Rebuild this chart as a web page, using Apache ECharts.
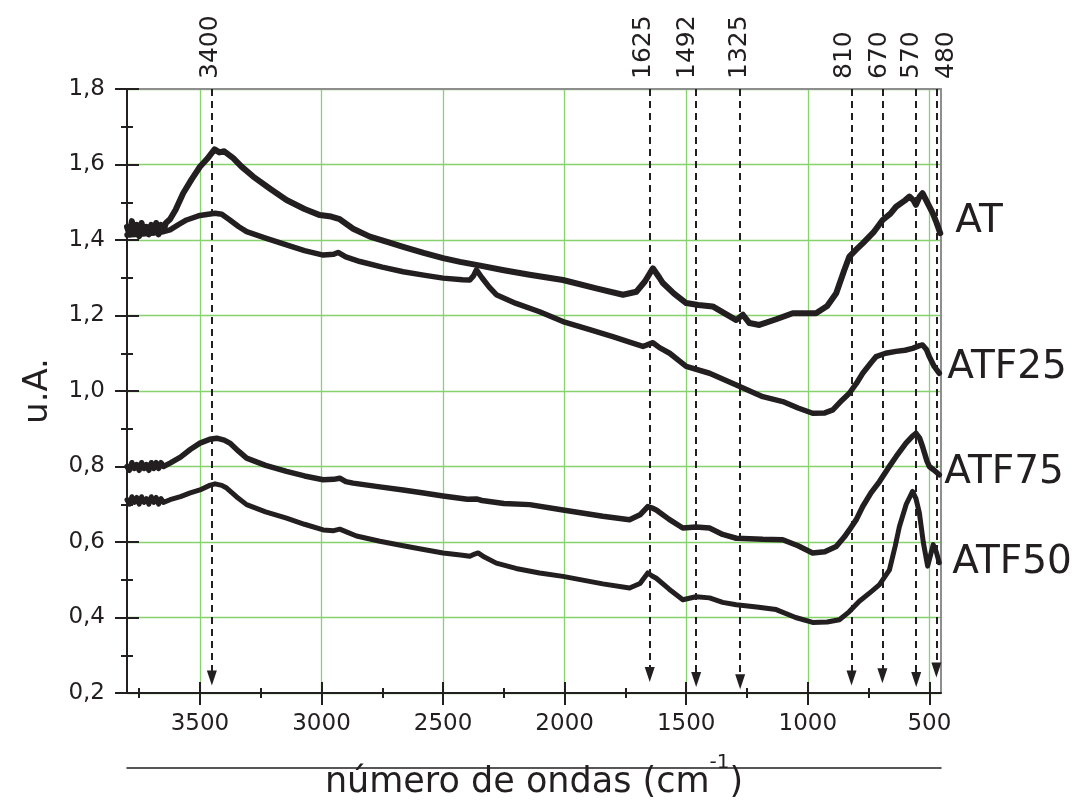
<!DOCTYPE html>
<html><head><meta charset="utf-8">
<script src="https://cdn.jsdelivr.net/npm/echarts@6/dist/echarts.min.js"></script>
<style>html,body{margin:0;padding:0;background:#fff}#c{width:1091px;height:808px}</style>
</head><body><div id="c"></div>
<script>
// ---------------- data ----------------
const X_TICKS = [3500, 3000, 2500, 2000, 1500, 1000, 500];
const X_MINOR = [3750, 3250, 2750, 2250, 1750, 1250, 750];
const SERIES_NAMES = ['AT', 'ATF25', 'ATF75', 'ATF50'];

const AT_x = [3800,3790,3780,3770,3760,3750,3740,3730,3720,3710,3700,3690,3680,3670,3660,3650,3640,
  3623,3600,3569,3535,3500,3470,3440,3420,3400,3363,3330,3281,3210,3144,3070,3007,2960,2925,2870,2801,
  2730,2664,2580,2500,2430,2363,2250,2144,2007,1870,
  1760,1705,1670,1637,1610,1596,1550,1500,1450,1391,
  1340,1294,1267,1240,1199,1130,1062,966,920,883,
  850,829,800,774,730,692,660,637,600,582,
  565,555,540,528,505,486,470,455];
const AT_y = [1.435,1.415,1.45,1.42,1.44,1.41,1.445,1.42,1.435,1.415,1.44,1.42,1.445,1.415,1.44,1.425,1.445,
  1.455,1.48,1.524,1.56,1.594,1.615,1.64,1.632,1.635,1.617,1.595,1.568,1.535,1.506,1.482,1.466,1.462,1.455,1.43,1.409,
  1.395,1.382,1.366,1.352,1.342,1.334,1.32,1.308,1.294,1.272,
  1.255,1.263,1.29,1.325,1.30,1.286,1.258,1.233,1.228,1.224,
  1.205,1.188,1.202,1.18,1.175,1.19,1.206,1.206,1.225,1.259,
  1.32,1.356,1.375,1.391,1.42,1.453,1.47,1.488,1.505,1.515,
  1.505,1.493,1.515,1.524,1.495,1.471,1.445,1.418];

const ATF25_x = [3800,3750,3700,3650,3623,3590,3555,3500,3438,3410,
  3377,3340,3308,3230,3144,3070,2993,2950,2932,2900,
  2842,2750,2664,2580,2500,2420,2390,2375,2363,2340,
  2310,2281,2200,2103,2007,1900,1802,1720,1678,1650,
  1637,1610,1568,1500,1404,1294,1185,1103,1040,980,
  930,897,860,829,800,774,740,719,680,637,
  600,569,540,528,512,500,480,459];
const ATF25_y = [1.413,1.415,1.418,1.422,1.427,1.44,1.453,1.465,1.471,1.468,
  1.453,1.435,1.422,1.405,1.387,1.372,1.36,1.362,1.367,1.355,
  1.343,1.328,1.316,1.307,1.299,1.295,1.294,1.305,1.321,1.30,
  1.275,1.255,1.232,1.21,1.184,1.163,1.144,1.127,1.118,1.125,
  1.128,1.115,1.10,1.065,1.047,1.016,0.985,0.972,0.955,0.941,
  0.942,0.95,0.975,0.994,1.02,1.047,1.075,1.091,1.10,1.105,
  1.108,1.113,1.12,1.122,1.11,1.091,1.065,1.047];

const ATF75_x = [3800,3790,3780,3770,3760,3750,3740,3730,3720,3710,3700,3690,3680,3670,3660,3650,
  3623,3580,3540,3500,3460,3431,3400,3377,3340,3308,
  3230,3144,3070,2993,2950,2925,2900,2870,2760,2664,
  2580,2500,2400,2363,2340,2250,2144,2007,1843,1733,
  1690,1658,1640,1623,1570,1514,1460,1404,1350,1294,
  1185,1103,1040,980,930,883,850,829,800,774,
  740,705,670,637,596,570,555,540,528,510,
  500,480,459];
const ATF75_y = [0.80,0.79,0.81,0.795,0.805,0.79,0.81,0.795,0.805,0.79,0.81,0.795,0.81,0.795,0.81,0.80,
  0.809,0.825,0.845,0.862,0.872,0.875,0.87,0.862,0.84,0.822,
  0.803,0.787,0.775,0.765,0.766,0.769,0.76,0.756,0.746,0.738,
  0.73,0.722,0.713,0.714,0.71,0.702,0.699,0.685,0.668,0.659,
  0.672,0.694,0.69,0.685,0.66,0.637,0.64,0.637,0.62,0.61,
  0.607,0.606,0.59,0.571,0.574,0.588,0.613,0.632,0.66,0.694,
  0.73,0.76,0.795,0.826,0.862,0.88,0.888,0.875,0.853,0.815,
  0.80,0.79,0.778];

const ATF50_x = [3800,3790,3780,3770,3760,3750,3740,3730,3720,3710,3700,3690,3680,3670,3660,3650,
  3623,3580,3540,3500,3460,3438,3410,3390,3350,3308,
  3230,3144,3070,2993,2950,2925,2890,2856,2760,2664,
  2580,2500,2420,2390,2370,2356,2330,2281,2200,2103,
  2007,1843,1733,1690,1658,1640,1623,1570,1514,1460,
  1404,1350,1294,1210,1130,1050,980,920,870,830,
  788,740,705,664,640,623,595,569,555,541,
  525,507,495,484,472,459];
const ATF50_y = [0.712,0.70,0.72,0.705,0.718,0.70,0.72,0.705,0.715,0.70,0.72,0.705,0.718,0.70,0.715,0.705,
  0.712,0.72,0.73,0.738,0.75,0.754,0.75,0.743,0.72,0.699,
  0.68,0.663,0.647,0.632,0.63,0.634,0.625,0.616,0.602,0.59,
  0.58,0.571,0.565,0.562,0.568,0.571,0.56,0.544,0.53,0.518,
  0.509,0.489,0.478,0.49,0.518,0.51,0.504,0.475,0.447,0.455,
  0.452,0.44,0.434,0.428,0.421,0.40,0.387,0.388,0.394,0.415,
  0.443,0.468,0.487,0.526,0.59,0.641,0.70,0.734,0.715,0.677,
  0.60,0.536,0.565,0.593,0.575,0.545];

// band annotations: dashed arrows
const BAND_LABELS = ['3400', '1625', '1492', '1325', '810', '670', '570', '480'];
const BAND_X      = [3451, 1650, 1459, 1278, 820, 693, 554, 471];
const BAND_END_Y  = [0.24, 0.249, 0.236, 0.23, 0.24, 0.246, 0.236, 0.261];
const BAND_LABEL_X = [3456, 1675, 1495, 1281, 849, 706, 574, 431];

// ---------------- chart ----------------
const FONT = '"DejaVu Sans", "Liberation Sans", sans-serif';
const INK = '#231f20';
const GREEN = '#86d36e';
const GRAY = '#8e8e8e';

function zip(xs, ys) {
  const n = Math.min(xs.length, ys.length);
  const out = [];
  for (let i = 0; i < n; i++) out.push([xs[i], ys[i]]);
  return out;
}
const SERIES_DATA = [zip(AT_x, AT_y), zip(ATF25_x, ATF25_y), zip(ATF75_x, ATF75_y), zip(ATF50_x, ATF50_y)];
const SERIES_WIDTH = [6, 5.5, 5.5, 5];

const chart = echarts.init(document.getElementById('c'), null, {renderer: 'canvas'});

const xBase = {type: 'value', min: 452, max: 3800, inverse: true, gridIndex: 0};
const hidden = {axisLabel: {show: false}, splitLine: {show: false}, minorTick: {show: false}, minorSplitLine: {show: false}};
const tickStyle = {color: INK, width: 2};

const xAxes = [
  Object.assign({}, xBase, {
    position: 'bottom', splitNumber: 7,
    axisLine: {show: true, onZero: false, lineStyle: {color: INK, width: 2}},
    axisTick: {show: true, inside: false, length: 12, customValues: X_TICKS, lineStyle: tickStyle},
    axisLabel: {show: true, customValues: X_TICKS, margin: 20, fontSize: 23, color: INK, fontFamily: FONT,
      formatter: v => String(v)},
    splitLine: {show: true, lineStyle: {color: GREEN, width: 1.3}},
    name: '{a|número de ondas (cm}{b|-1}{a|)}',
    nameLocation: 'middle', nameGap: 60,
    nameTextStyle: {
      rich: {
        a: {fontSize: 35, fontFamily: FONT, color: INK, lineHeight: 60},
        b: {fontSize: 20, fontFamily: FONT, color: INK, lineHeight: 22, verticalAlign: 'top'}
      }
    }
  }),
  Object.assign({}, xBase, hidden, {
    position: 'bottom',
    axisLine: {show: false, onZero: false},
    axisTick: {show: true, inside: true, length: 11, customValues: X_TICKS, lineStyle: tickStyle}
  }),
  Object.assign({}, xBase, hidden, {
    position: 'bottom',
    axisLine: {show: false, onZero: false},
    axisTick: {show: true, inside: false, length: 5, customValues: X_MINOR, lineStyle: tickStyle}
  }),
  Object.assign({}, xBase, hidden, {
    position: 'bottom',
    axisLine: {show: false, onZero: false},
    axisTick: {show: true, inside: true, length: 5, customValues: X_MINOR, lineStyle: tickStyle}
  }),
  Object.assign({}, xBase, hidden, {
    position: 'top',
    axisLine: {show: true, onZero: false, lineStyle: {color: GRAY, width: 2}},
    axisTick: {show: false}
  }),
  Object.assign({}, xBase, hidden, {
    position: 'bottom', offset: 75,
    axisLine: {show: true, onZero: false, lineStyle: {color: INK, width: 1.5}},
    axisTick: {show: false}
  })
];

const yBase = {type: 'value', min: 0.2, max: 1.8, interval: 0.2, gridIndex: 0};
const yAxes = [
  Object.assign({}, yBase, {
    position: 'left',
    axisLine: {show: true, onZero: false, lineStyle: {color: INK, width: 2}},
    axisTick: {show: true, inside: false, length: 12, lineStyle: tickStyle},
    minorTick: {show: true, splitNumber: 2, length: 6, lineStyle: tickStyle},
    axisLabel: {show: true, margin: 22, fontSize: 23, color: INK, fontFamily: FONT,
      formatter: v => v.toFixed(1).replace('.', ',')},
    splitLine: {show: true, lineStyle: {color: GREEN, width: 1.3}},
    name: 'u.A.', nameLocation: 'middle', nameGap: 72,
    nameTextStyle: {fontSize: 34, fontFamily: FONT, color: INK}
  }),
  Object.assign({}, yBase, hidden, {
    position: 'left',
    axisLine: {show: false, onZero: false},
    axisTick: {show: true, inside: true, length: 12, lineStyle: tickStyle},
    minorTick: {show: true, splitNumber: 2, length: 6, lineStyle: tickStyle}
  }),
  Object.assign({}, yBase, hidden, {
    position: 'right',
    axisLine: {show: true, onZero: false, lineStyle: {color: GRAY, width: 2}},
    axisTick: {show: false}
  })
];

const series = SERIES_DATA.map((d, i) => ({
  name: SERIES_NAMES[i], type: 'line', data: d,
  xAxisIndex: 0, yAxisIndex: 0,
  showSymbol: false, symbol: 'none', silent: true, animation: false,
  lineStyle: {color: INK, width: SERIES_WIDTH[i], join: 'round', cap: 'round'},
  z: 3
}));

series.push({
  type: 'line', data: [], xAxisIndex: 0, yAxisIndex: 0, silent: true, animation: false, z: 4,
  markLine: {
    silent: true, animation: false,
    symbol: ['none', 'triangle'], symbolSize: [10, 15],
    label: {show: false},
    lineStyle: {color: INK, width: 2, type: [7, 5]},
    itemStyle: {color: INK},
    data: BAND_X.map((x, i) => [{coord: [x, 1.8]}, {coord: [x, BAND_END_Y[i]]}])
  }
});

chart.setOption({
  animation: false,
  backgroundColor: '#ffffff',
  grid: {left: 127, top: 89, right: 150, bottom: 115, containLabel: false},
  xAxis: xAxes,
  yAxis: yAxes,
  series: series
});

// text annotations placed through the axes' own scales
const graphics = [];
const topY = chart.convertToPixel({yAxisIndex: 0}, 1.8);
BAND_LABELS.forEach((t, i) => {
  const px = chart.convertToPixel({xAxisIndex: 0}, BAND_LABEL_X[i]);
  graphics.push({
    type: 'text', x: px, y: topY - 10, rotation: Math.PI / 2, silent: true,
    style: {text: t, fill: INK, font: '25px ' + FONT, align: 'left', verticalAlign: 'middle'}
  });
});
const NAME_OFFSETS = [[15, -11], [8, -5], [5, -2], [13, 0]];
SERIES_DATA.forEach((d, i) => {
  const last = d[d.length - 1];
  const p = chart.convertToPixel({seriesIndex: i}, last);
  graphics.push({
    type: 'text', x: p[0] + NAME_OFFSETS[i][0], y: p[1] + NAME_OFFSETS[i][1], silent: true,
    style: {text: SERIES_NAMES[i], fill: INK, font: '39px ' + FONT, align: 'left', verticalAlign: 'middle'}
  });
});
chart.setOption({graphic: graphics});
</script>
</body></html>
